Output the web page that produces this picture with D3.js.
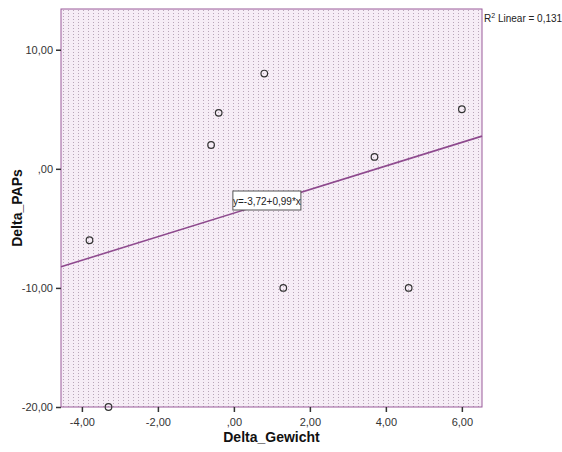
<!DOCTYPE html>
<html><head><meta charset="utf-8">
<script src="https://cdn.jsdelivr.net/npm/d3@7"></script>
<style>body{margin:0;background:#fff;} text{font-family:"Liberation Sans",Arial,sans-serif;}</style>
</head><body>
<svg id="c" width="562" height="452"></svg>
<script>
const xValues = [-3.8, -3.3, -0.6, -0.4, 0.8, 1.3, 3.7, 4.6, 6.0];
const yValues = [-6, -20, 2, 4.7, 8, -10, 1, -10, 5];
const xTicks = [-4, -2, 0, 2, 4, 6];
const yTicks = [-20, -10, 0, 10];
const fitIntercept = -3.72, fitSlope = 0.99;
const fitLabel = "y=-3,72+0,99*x";
const r2Label = "0,131";
const xTitle = "Delta_Gewicht", yTitle = "Delta_PAPs";

const svg = d3.select("#c");
const L = 61, R = 482, T = 9, B = 407;
const x = d3.scaleLinear().domain([-4.55, 6.53]).range([L, R]);
const y = d3.scaleLinear().domain([-20, 13.42]).range([B, T]);
const fmt = v => (v === 0 ? ",00" : d3.format(".2f")(v).replace(".", ",").replace("−", "-"));

const defs = svg.append("defs");
const pat = defs.append("pattern").attr("id","dots").attr("patternUnits","userSpaceOnUse")
  .attr("width",5).attr("height",3).attr("x",L).attr("y",T);
pat.append("rect").attr("width",5).attr("height",3).attr("fill","#f6edf6");
pat.append("rect").attr("x",2).attr("y",1).attr("width",1).attr("height",1).attr("fill","#b8a6b8");

svg.append("rect").attr("x",L).attr("y",T).attr("width",R-L).attr("height",B-T)
  .attr("fill","url(#dots)").attr("stroke","#9a5a9a").attr("stroke-width",1);

// axes
const xa = svg.append("g").attr("transform",`translate(0,${B})`)
  .call(d3.axisBottom(x).tickValues(xTicks).tickSize(5).tickFormat(fmt));
const ya = svg.append("g").attr("transform",`translate(${L},0)`)
  .call(d3.axisLeft(y).tickValues(yTicks).tickSize(5).tickFormat(fmt));
[xa, ya].forEach(a => {
  a.select(".domain").remove();
  a.selectAll("line").attr("stroke","#333").attr("stroke-width",1.5);
  a.selectAll("text").attr("fill","#333").style("font-size","11px").style("font-family","Liberation Sans, Arial, sans-serif");
});
xa.selectAll("text").attr("dy","1em");

// fit line
const d0 = x.domain();
svg.append("line")
  .attr("x1",x(d0[0])).attr("y1",y(fitIntercept+fitSlope*d0[0]))
  .attr("x2",x(d0[1])).attr("y2",y(fitIntercept+fitSlope*d0[1]))
  .attr("stroke","#8e4a8e").attr("stroke-width",1.6);

// points
svg.append("g").selectAll("circle").data(xValues).join("circle")
  .attr("cx",(d)=>x(d)).attr("cy",(d,i)=>y(yValues[i])).attr("r",3.3)
  .attr("fill","none").attr("stroke","#333").attr("stroke-width",1.2);

// fit label box
const bx = x(0)-1, by = 191;
svg.append("rect").attr("x",bx).attr("y",by).attr("width",68).attr("height",19)
  .attr("fill","#fff").attr("stroke","#555").attr("stroke-width",1);
svg.append("text").attr("x",bx+34).attr("y",by+13.5).attr("text-anchor","middle")
  .style("font-size","10px").attr("fill","#222").text(fitLabel);

// R2 label
const r2 = svg.append("text").attr("x",R+2).attr("y",22).style("font-size","10px").attr("fill","#222");
r2.append("tspan").text("R");
r2.append("tspan").attr("dy",-4).style("font-size","7px").text("2");
r2.append("tspan").attr("dy",4).text(" Linear = " + r2Label);

// titles
svg.append("text").attr("x",(L+R)/2).attr("y",442).attr("text-anchor","middle")
  .style("font-size","14px").style("font-weight","bold").attr("fill","#111").text(xTitle);
svg.append("text").attr("transform",`translate(22,${(T+B)/2}) rotate(-90)`).attr("text-anchor","middle")
  .style("font-size","14px").style("font-weight","bold").attr("fill","#111").text(yTitle);
</script>
</body></html>
